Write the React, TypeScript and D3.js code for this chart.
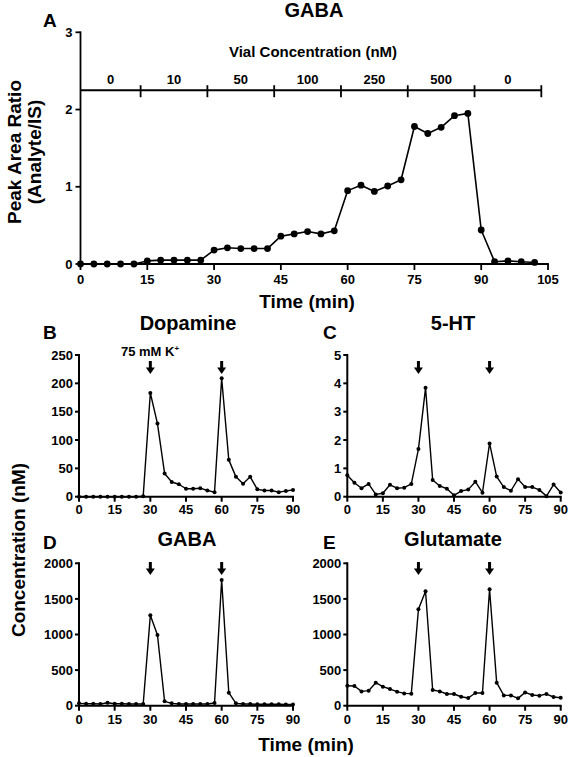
import React from 'react';
import * as d3 from 'd3';

// ---------- DATA ----------
const timeA = [0, 3, 6, 9, 12, 15, 18, 21, 24, 27, 30, 33, 36, 39, 42, 45, 48, 51, 54, 57, 60, 63, 66, 69, 72, 75, 78, 81, 84, 87, 90, 93, 96, 99, 102];
const gabaRatio = [0, 0, 0, 0, 0, 0.04, 0.05, 0.05, 0.05, 0.05, 0.18, 0.21, 0.2, 0.2, 0.2, 0.36, 0.39, 0.42, 0.39, 0.43, 0.95, 1.02, 0.94, 1.01, 1.09, 1.78, 1.69, 1.77, 1.92, 1.95, 0.44, 0.03, 0.04, 0.03, 0.02];
const vialBounds = [0, 13.5, 28.5, 43.5, 58.5, 73.5, 88.5, 103.5];
const vialLabels = ['0', '10', '50', '100', '250', '500', '0'];
const vialLevel = 2.25;
const xTicksA = [0, 15, 30, 45, 60, 75, 90, 105];
const yTicksA = [0, 1, 2, 3];

const timeSmall = [0, 3, 6, 9, 12, 15, 18, 21, 24, 27, 30, 33, 36, 39, 42, 45, 48, 51, 54, 57, 60, 63, 66, 69, 72, 75, 78, 81, 84, 87, 90];
const dopamine = [0, 0, 0, 0, 0, 0, 0, 0, 0, 1, 183, 129, 41, 26, 22, 14, 14, 15, 11, 8, 209, 65, 35, 23, 35, 13, 11, 11, 8, 10, 12];
const serotonin = [0.76, 0.49, 0.3, 0.45, 0.08, 0.12, 0.42, 0.3, 0.32, 0.45, 1.68, 3.84, 0.59, 0.38, 0.28, 0.05, 0.2, 0.25, 0.53, 0.14, 1.88, 0.71, 0.34, 0.21, 0.62, 0.34, 0.34, 0.24, 0.02, 0.43, 0.15];
const gabaConc = [33, 28, 28, 23, 42, 28, 28, 23, 23, 23, 1269, 993, 61, 33, 23, 23, 23, 23, 23, 37, 1766, 183, 33, 23, 23, 20, 20, 20, 20, 18, 18];
const glutamate = [281, 276, 201, 211, 323, 267, 234, 197, 173, 169, 1354, 1607, 220, 201, 164, 164, 126, 108, 178, 178, 1635, 323, 145, 145, 103, 187, 150, 141, 164, 122, 112];
const xTicksSmall = [0, 15, 30, 45, 60, 75, 90];
const yTicksDopamine = [0, 50, 100, 150, 200, 250];
const yTicks5HT = [0, 1, 2, 3, 4, 5];
const yTicksAmino = [0, 500, 1000, 1500, 2000];
const stimTimes = [30, 60];

const FONT = "'Liberation Sans', Arial, Helvetica, sans-serif";

type PanelProps = {
  left: number; right: number; bottom: number; top: number;
  xMax: number; yMax: number;
  xTicks: number[]; yTicks: number[];
  times: number[]; values: number[];
  title: string; titleX: number; titleY: number;
  letter: string; letterX: number; letterY: number;
  arrowTip?: number;
  r: number; tickFont: number; xLabelY: number;
  lineW: number; axisW: number; tickLen: number; yLabelGap: number;
};

function Arrow({ x, tip }: { x: number; tip: number }) {
  const len = 13;
  return (
    <g>
      <rect x={x - 1.5} y={tip - len} width={3} height={len - 5} fill="#000" />
      <path d={`M${x - 4.5},${tip - 6.5}L${x + 4.5},${tip - 6.5}L${x},${tip}Z`} fill="#000" />
    </g>
  );
}

function Panel(p: PanelProps) {
  const x = d3.scaleLinear().domain([0, p.xMax]).range([p.left, p.right]);
  const y = d3.scaleLinear().domain([0, p.yMax]).range([p.bottom, p.top]);
  const pts: [number, number][] = p.times.map((t, i) => [t, p.values[i]]);
  const line = d3.line<[number, number]>().x(d => x(d[0])).y(d => y(d[1]));
  return (
    <g>
      <path d={line(pts) || ''} fill="none" stroke="#000" strokeWidth={p.lineW} strokeLinejoin="round" />
      {pts.map((d, i) => (
        <circle key={i} cx={x(d[0])} cy={y(d[1])} r={p.r} fill="#000" />
      ))}
      <line x1={p.left} x2={p.left} y1={p.top} y2={p.bottom} stroke="#000" strokeWidth={p.axisW} strokeLinecap="square" />
      <line x1={p.left} x2={p.right} y1={p.bottom} y2={p.bottom} stroke="#000" strokeWidth={p.axisW} strokeLinecap="square" />
      {p.yTicks.map(t => (
        <g key={'y' + t}>
          <line x1={p.left - p.tickLen} x2={p.left} y1={y(t)} y2={y(t)} stroke="#000" strokeWidth={p.axisW} />
          <text x={p.left - p.yLabelGap} y={y(t)} dy="0.36em" textAnchor="end" fontSize={p.tickFont} fontWeight="bold" fontFamily={FONT}>{t}</text>
        </g>
      ))}
      {p.xTicks.map(t => (
        <g key={'x' + t}>
          <line x1={x(t)} x2={x(t)} y1={p.bottom} y2={p.bottom + p.tickLen + 1} stroke="#000" strokeWidth={p.axisW} />
          <text x={x(t)} y={p.xLabelY} textAnchor="middle" fontSize={p.tickFont} fontWeight="bold" fontFamily={FONT}>{t}</text>
        </g>
      ))}
      {p.arrowTip !== undefined && stimTimes.map(t => <Arrow key={'a' + t} x={x(t)} tip={p.arrowTip as number} />)}
      <text x={p.titleX} y={p.titleY} textAnchor="middle" fontSize={20} fontWeight="bold" fontFamily={FONT}>{p.title}</text>
      <text x={p.letterX} y={p.letterY} fontSize={19} fontWeight="bold" fontFamily={FONT}>{p.letter}</text>
    </g>
  );
}

export default function App() {
  const xA = d3.scaleLinear().domain([0, 105]).range([80.5, 548]);
  const yA = d3.scaleLinear().domain([0, 3]).range([264, 32.3]);
  const vy = yA(vialLevel);
  const smallCommon = { r: 2, tickFont: 13, lineW: 1.4, axisW: 2, tickLen: 4, yLabelGap: 6 };
  return (
    <svg width={569} height={757} style={{ position: 'absolute', left: 0, top: 0, background: '#fff' }}>
      <rect x={0} y={0} width={569} height={757} fill="#fff" />
      {/* Panel A */}
      <Panel left={80.5} right={548} bottom={264} top={32.3} xMax={105} yMax={3}
        xTicks={xTicksA} yTicks={yTicksA} times={timeA} values={gabaRatio}
        title="GABA" titleX={314} titleY={17} letter="A" letterX={43} letterY={27}
        r={3.4} tickFont={13} xLabelY={284} lineW={1.6} axisW={1.8} tickLen={5} yLabelGap={8} />
      <line x1={xA(0)} x2={xA(vialBounds[vialBounds.length - 1])} y1={vy} y2={vy} stroke="#000" strokeWidth={1.8} />
      {vialBounds.slice(1).map((b, i) => (
        <line key={'vb' + i} x1={xA(b)} x2={xA(b)} y1={vy - 5} y2={vy + 7} stroke="#000" strokeWidth={1.8} />
      ))}
      {vialLabels.map((l, i) => (
        <text key={'vl' + i} x={xA((vialBounds[i] + vialBounds[i + 1]) / 2)} y={84} textAnchor="middle" fontSize={13} fontWeight="bold" fontFamily={FONT}>{l}</text>
      ))}
      <text x={313} y={57} textAnchor="middle" fontSize={15} fontWeight="bold" fontFamily={FONT}>Vial Concentration (nM)</text>
      <text x={307} y={308} textAnchor="middle" fontSize={19} fontWeight="bold" fontFamily={FONT}>Time (min)</text>
      <text transform="translate(21,152) rotate(-90)" textAnchor="middle" fontSize={19} fontWeight="bold" fontFamily={FONT}>Peak Area Ratio</text>
      <text transform="translate(41,152) rotate(-90)" textAnchor="middle" fontSize={19} fontWeight="bold" fontFamily={FONT}>(Analyte/IS)</text>

      {/* Panel B */}
      <Panel left={79} right={293} bottom={496.7} top={355} xMax={90} yMax={250}
        xTicks={xTicksSmall} yTicks={yTicksDopamine} times={timeSmall} values={dopamine}
        title="Dopamine" titleX={188} titleY={330} letter="B" letterX={43} letterY={339}
        arrowTip={374} xLabelY={514} {...smallCommon} />
      <text x={150} y={356} textAnchor="middle" fontSize={13} fontWeight="bold" fontFamily={FONT}>
        75 mM K<tspan fontSize={8} dy={-5}>+</tspan>
      </text>

      {/* Panel C */}
      <Panel left={347.3} right={560.7} bottom={496.7} top={355} xMax={90} yMax={5}
        xTicks={xTicksSmall} yTicks={yTicks5HT} times={timeSmall} values={serotonin}
        title="5-HT" titleX={453} titleY={329.5} letter="C" letterX={323} letterY={339}
        arrowTip={374} xLabelY={514} {...smallCommon} />

      {/* Panel D */}
      <Panel left={79} right={293} bottom={705.7} top={563.3} xMax={90} yMax={2000}
        xTicks={xTicksSmall} yTicks={yTicksAmino} times={timeSmall} values={gabaConc}
        title="GABA" titleX={187} titleY={546} letter="D" letterX={43} letterY={549}
        arrowTip={575} xLabelY={724} {...smallCommon} />

      {/* Panel E */}
      <Panel left={347.3} right={560.7} bottom={705.7} top={563.3} xMax={90} yMax={2000}
        xTicks={xTicksSmall} yTicks={yTicksAmino} times={timeSmall} values={glutamate}
        title="Glutamate" titleX={453} titleY={546} letter="E" letterX={323} letterY={549}
        arrowTip={575} xLabelY={724} {...smallCommon} />

      <text transform="translate(25,550) rotate(-90)" textAnchor="middle" fontSize={19} fontWeight="bold" fontFamily={FONT}>Concentration (nM)</text>
      <text x={306} y={751} textAnchor="middle" fontSize={19} fontWeight="bold" fontFamily={FONT}>Time (min)</text>
    </svg>
  );
}
